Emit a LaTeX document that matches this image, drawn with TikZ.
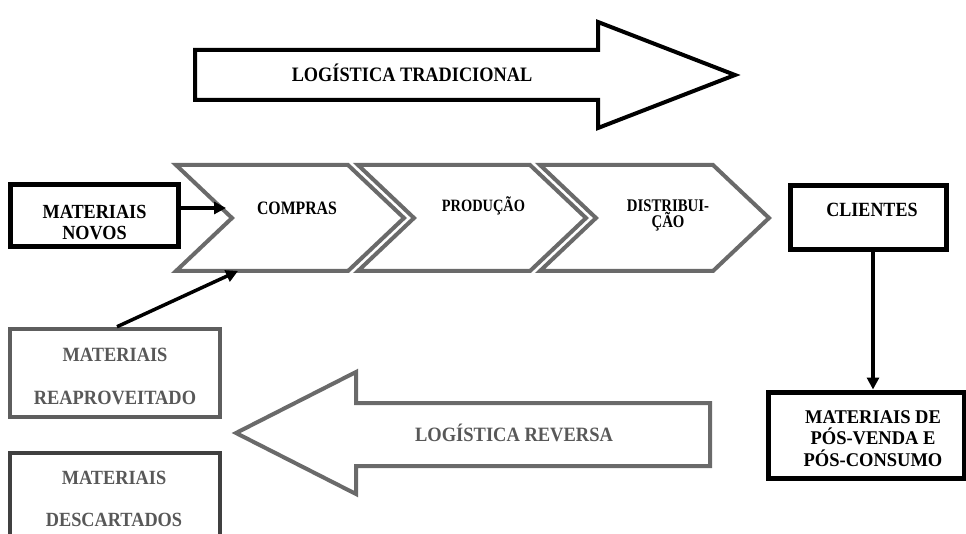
\documentclass[tikz,border=0pt]{standalone}
\usepackage{fontspec}
\usepackage{graphicx}
\setmainfont{Liberation Serif}
\usetikzlibrary{arrows.meta}
\definecolor{chevgray}{HTML}{6A6A6A}
\definecolor{reapgray}{HTML}{5E5E5E}
\definecolor{descgray}{HTML}{404040}
\definecolor{txtgray}{HTML}{585858}
\newcommand{\vst}[2]{\scalebox{1}[#1]{#2}}
\begin{document}
\begin{tikzpicture}[x=1pt,y=-1pt,
  txtl/.style={font=\bfseries\fontsize{#1}{#1}\selectfont, inner sep=0pt, anchor=base},
  blackbox/.style={draw=black, line width=5pt, fill=white, inner sep=0pt},
  graybox/.style={draw=reapgray, line width=4.5pt, fill=white, inner sep=0pt},
  chev/.style={draw=chevgray, line width=4pt, fill=white, line join=miter},
  conn/.style={line width=3.5pt, -{Triangle[length=12pt,width=12pt]}}
]
\useasboundingbox (0,0) rectangle (966,534);
\fill[white] (0,0) rectangle (966,534);

% top arrow
\draw[line width=4pt, line join=miter] (195,50) -- (598,50) -- (598,22) -- (735,75) -- (598,128) -- (598,100) -- (195,100) -- cycle;
\node[txtl=18.3] (trad) at (412,81.8) {\vst{1.12}{LOGÍSTICA TRADICIONAL}};

% chevrons
\draw[chev] (540,165) -- (713,165) -- (769,218) -- (713,271) -- (540,271) -- (596,218) -- cycle;
\draw[chev] (358,165) -- (530,165) -- (586,218) -- (530,271) -- (358,271) -- (414,218) -- cycle;
\draw[chev] (176,165) -- (348,165) -- (404,218) -- (348,271) -- (176,271) -- (232,218) -- cycle;
\coordinate (notch1) at (226,208);
\coordinate (bot1) at (238,271);
\node[txtl=15.8] (compras) at (297,214.8) {\vst{1.2}{COMPRAS}};
\node[txtl=14.4] (producao) at (483.5,211.7) {\vst{1.2}{PRODUÇÃO}};
\node[txtl=14.8] (distrib1) at (668,211.9) {\vst{1.2}{DISTRIBUI-}};
\node[txtl=14.8] (distrib2) at (668,227.9) {\vst{1.2}{ÇÃO}};

% boxes
\node[blackbox, minimum width=168pt, minimum height=62pt] (novos) at (94,216) {};
\node[txtl=18.2] (novos1) at (94.5,218.1) {\vst{1.1}{MATERIAIS}};
\node[txtl=18.2] (novos2) at (94.5,239.6) {\vst{1.1}{NOVOS}};

\node[blackbox, minimum width=156pt, minimum height=64pt] (clientes) at (868,218) {};
\node[txtl=18] (clientes1) at (872,216.7) {\vst{1.12}{CLIENTES}};

\node[blackbox, minimum width=196pt, minimum height=86pt] (pos) at (866,435) {};
\node[txtl=18.5] (pos1) at (873,423.3) {\vst{1.05}{MATERIAIS DE}};
\node[txtl=18.5] (pos2) at (873,444.6) {\vst{1.05}{PÓS-VENDA E}};
\node[txtl=18.5] (pos3) at (873,466.3) {\vst{1.05}{PÓS-CONSUMO}};

\node[graybox, minimum width=210pt, minimum height=88pt] (reap) at (115,373) {};
\node[txtl=18.4, text=txtgray] (reap1) at (115,361.7) {\vst{1.1}{MATERIAIS}};
\node[txtl=18.4, text=txtgray] (reap2) at (115,404.2) {\vst{1.1}{REAPROVEITADO}};

\node[graybox, draw=descgray, minimum width=210pt, minimum height=92pt] (desc) at (115,499) {};
\node[txtl=18.3, text=txtgray] (desc1) at (114,484.7) {\vst{1.1}{MATERIAIS}};
\node[txtl=18.3, text=txtgray] (desc2) at (114,526.7) {\vst{1.1}{DESCARTADOS}};

% reverse arrow
\draw[draw=chevgray, line width=4pt, fill=white, line join=miter] (710,403) -- (356,403) -- (356,372) -- (236,433) -- (356,494) -- (356,466) -- (710,466) -- cycle;
\node[txtl=18.5, text=txtgray] (rev) at (514,441.7) {\vst{1.1}{LOGÍSTICA REVERSA}};

% connectors
\draw[conn] (novos.east |- notch1) -- (notch1);
\draw[conn] (reap.north -| 117,0) -- (bot1);
\draw[conn] (clientes.south -| 873,0) -- (pos.north -| 873,0);
\end{tikzpicture}
\end{document}
